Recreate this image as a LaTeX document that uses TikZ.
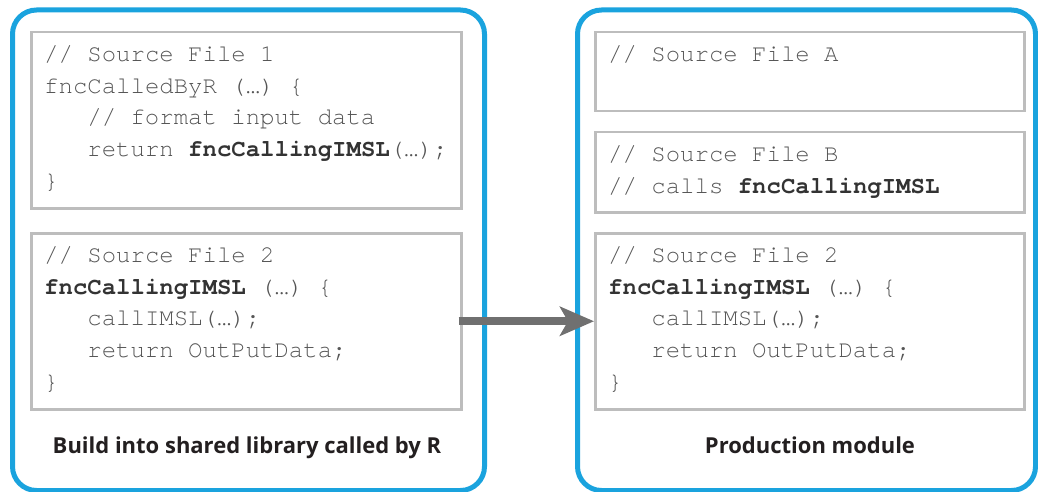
\documentclass[tikz,border=0pt]{standalone}
\usepackage{fontspec}
\setmainfont{Open Sans}
\newfontfamily\codefont{TeX Gyre Cursor}
\usetikzlibrary{arrows.meta}
\definecolor{frameblue}{HTML}{1AA3DE}
\definecolor{boxgray}{HTML}{BDBDBD}
\definecolor{codegray}{HTML}{555555}
\definecolor{codedark}{HTML}{333333}
\definecolor{arrowgray}{HTML}{707070}
\definecolor{labelcol}{HTML}{231F20}
\newcommand\bx[1]{{\bfseries\color{codedark}#1}}
\newcommand\ind{\hphantom{xxx}}
\newcommand\topstrut{\rule{0pt}{22pt}}
\tikzset{
  outer/.style={draw=frameblue, line width=5pt, rounded corners=24pt, anchor=north west, inner sep=0pt},
  codebox/.style={draw=boxgray, line width=2.5pt, fill=white, anchor=north west, inner sep=0pt},
  codetext/.style={anchor=north west, inner sep=0pt, align=left, text=codegray,
    font=\codefont\fontsize{24}{31.8}\selectfont},
  framelabel/.style={font=\fontsize{22}{26}\selectfont\bfseries, text=labelcol, anchor=base},
  bigarrow/.style={draw=arrowgray, line width=8pt, -{Stealth[length=34pt, width=29pt, inset=8pt]}}
}
\begin{document}
\begin{tikzpicture}[x=1pt,y=-1pt]
\useasboundingbox (0,0) rectangle (1038,492);
% outer frames
\node[outer, minimum width=472pt, minimum height=480.5pt] (LF) at (10,7.5) {};
\node[outer, minimum width=458pt, minimum height=480.5pt] (RF) at (575,7.5) {};
% code boxes
\node[codebox, minimum width=430pt, minimum height=176pt] (L1) at (30,31) {};
\node[codebox, minimum width=430pt, minimum height=176pt] (L2) at (30,232) {};
\node[codebox, minimum width=429pt, minimum height=79pt] (RA) at (594,31) {};
\node[codebox, minimum width=429pt, minimum height=80pt] (RB) at (594,131) {};
\node[codebox, minimum width=429pt, minimum height=176pt] (R2) at (594,232) {};
% code texts
\node[codetext] (L1t) at (44,39) {\topstrut// Source File 1\\
fncCalledByR (…) \{\\
\ind// format input data\\
\ind return \bx{fncCallingIMSL}(…);\\
\}};
\node[codetext] (L2t) at (44,240) {\topstrut// Source File 2\\
\bx{fncCallingIMSL} (…) \{\\
\ind callIMSL(…);\\
\ind return OutPutData;\\
\}};
\node[codetext] (RAt) at (608,39) {\topstrut// Source File A};
\node[codetext] (RBt) at (608,139) {\topstrut// Source File B\\
// calls \bx{fncCallingIMSL}};
\node[codetext] (R2t) at (608,240) {\topstrut// Source File 2\\
\bx{fncCallingIMSL} (…) \{\\
\ind callIMSL(…);\\
\ind return OutPutData;\\
\}};
% labels
\node[framelabel] (LL) at (247,453) {Build into shared library called by R};
\node[framelabel] (RL) at (810,453) {Production module};
% arrow
\draw[bigarrow] ([xshift=-4pt]L2.east) -- (R2.west);
\end{tikzpicture}
\end{document}
